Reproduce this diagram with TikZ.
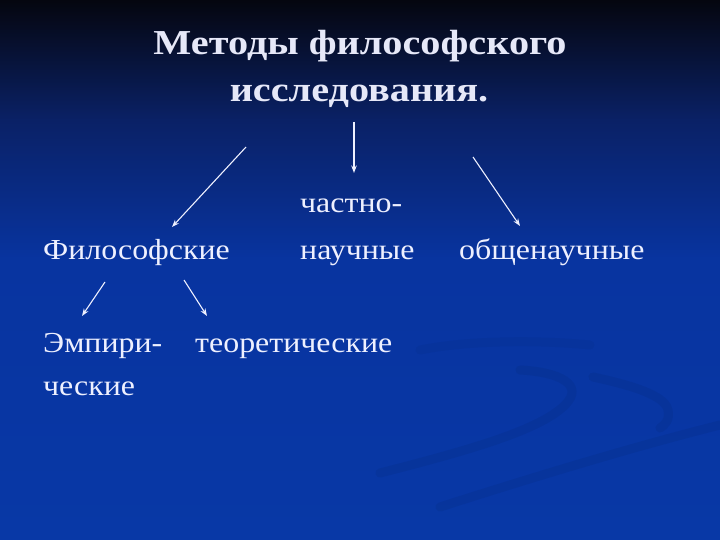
\documentclass[tikz,border=0pt]{standalone}
\usepackage{fontspec}
\setmainfont{Liberation Serif}
\newfontfamily\bodyfont[FakeStretch=1.1]{Liberation Serif}
\newfontfamily\ttlfont[FakeStretch=1.15]{Liberation Serif}
\usetikzlibrary{arrows.meta}
\definecolor{bgtop}{HTML}{05060F}
\definecolor{bgmid}{HTML}{0A2166}
\definecolor{bgbot}{HTML}{0834A0}
\definecolor{bglow}{HTML}{0838A6}
\definecolor{txt}{HTML}{EEF0FF}
\definecolor{ttl}{HTML}{E6E8F8}
\tikzset{
  lbl/.style={anchor=base west, inner sep=0pt, text=txt, font=\bodyfont\fontsize{29}{34}\selectfont},
  ttlstyle/.style={anchor=base, inner sep=0pt, text=ttl, font=\ttlfont\fontsize{35}{42}\selectfont\bfseries},
  arr/.style={draw=txt, line width=1.1pt, -{Stealth[length=7.5pt,width=5.5pt]}},
  swirl/.style={draw=black, opacity=0.05, line width=9pt, line cap=round}
}
\begin{document}
\begin{tikzpicture}[x=1pt,y=-1pt]
\useasboundingbox (0,0) rectangle (720,540);
\shade[top color=bgtop, bottom color=bgmid] (0,0) rectangle (720,120.5);
\shade[top color=bgmid, bottom color=bgbot] (0,120) rectangle (720,260.5);
\shade[top color=bgbot, bottom color=bglow] (0,260) rectangle (720,540);
% faint swirl
\draw[swirl] (380,473) .. controls (470,450) and (540,430) .. (565,405) .. controls (585,385) and (560,372) .. (520,370);
\draw[swirl] (440,507) .. controls (540,475) and (640,445) .. (720,425);
\draw[swirl] (593,377) .. controls (630,385) and (665,395) .. (668,410) .. controls (670,420) and (665,425) .. (660,428);
\draw[swirl,opacity=0.03] (420,350) .. controls (470,340) and (540,340) .. (590,345);
% title
\node[ttlstyle] (t1) at (360,55) {Методы философского};
\node[ttlstyle] (t2) at (359,102) {исследования.};
% labels
\node[lbl] (phil) at (43,259) {Философские};
\node[lbl] (chast) at (300,212) {частно-};
\node[lbl] (nauch) at (300,259) {научные};
\node[lbl] (obsh) at (459,259) {общенаучные};
\node[lbl] (emp) at (43,352) {Эмпири-};
\node[lbl] (teor) at (195,352) {теоретические};
\node[lbl] (ches) at (43,395) {ческие};
% arrow end points
\coordinate (a1s) at (246,147); \coordinate (a1e) at (172,227);
\coordinate (a2s) at (354,122); \coordinate (a2e) at (354,173);
\coordinate (a3s) at (473,157); \coordinate (a3e) at (520,226);
\coordinate (a4s) at (105,282); \coordinate (a4e) at (82,316);
\coordinate (a5s) at (184,280); \coordinate (a5e) at (207,316);
\draw[arr] (a1s) -- (a1e);
\draw[arr] (a2s) -- (a2e);
\draw[arr] (a3s) -- (a3e);
\draw[arr] (a4s) -- (a4e);
\draw[arr] (a5s) -- (a5e);
\end{tikzpicture}
\end{document}
